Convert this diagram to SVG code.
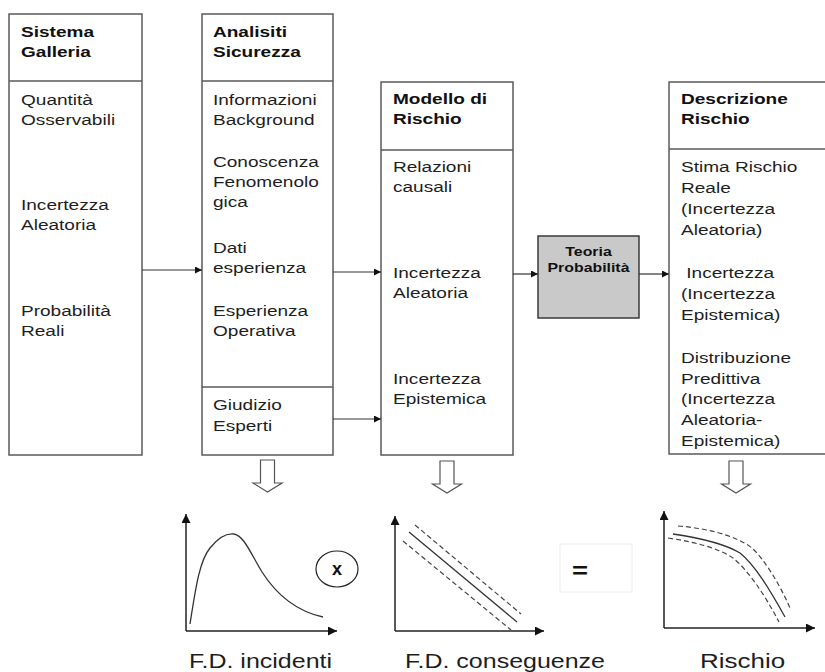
<svg xmlns="http://www.w3.org/2000/svg" width="825" height="672" viewBox="0 0 825 672">
<defs>
<style>
.box{fill:#fff;stroke:#5a5a5a;stroke-width:1.5}
.div{stroke:#5a5a5a;stroke-width:1.5}
.t{font-family:"Liberation Sans",Arial,sans-serif;font-size:15px;fill:#1e1e1e}
.h{font-family:"Liberation Sans",Arial,sans-serif;font-size:15px;font-weight:bold;fill:#111}
.tp{font-family:"Liberation Sans",Arial,sans-serif;font-size:12.5px;font-weight:bold;fill:#111;text-anchor:middle}
.lbl{font-family:"Liberation Sans",Arial,sans-serif;font-size:20px;fill:#1e1e1e}
.conn{stroke:#333;stroke-width:1.2;fill:none}
.hollow{fill:#fff;stroke:#555;stroke-width:1.2}
.axis{stroke:#222;stroke-width:1.5;fill:none}
.curve{stroke:#333;stroke-width:1.3;fill:none}
.dash{stroke:#444;stroke-width:1.2;fill:none;stroke-dasharray:5,3}
</style>
<marker id="ah" viewBox="0 0 10 10" refX="10" refY="5" markerWidth="8" markerHeight="7" markerUnits="userSpaceOnUse" orient="auto"><path d="M0,0 L10,5 L0,10 Z" fill="#111"/></marker>
<marker id="ax" viewBox="0 0 10 10" refX="10" refY="5" markerWidth="11" markerHeight="9" markerUnits="userSpaceOnUse" orient="auto"><path d="M0,0 L10,5 L0,10 Z" fill="#111"/></marker>
</defs>

<g id="sistema-galleria">
<rect class="box" x="9" y="14" width="133" height="441"/>
<line class="div" x1="9" y1="81" x2="142" y2="81"/>
<text class="h" transform="translate(21,37) scale(1.27,1)">Sistema</text>
<text class="h" transform="translate(21,57) scale(1.27,1)">Galleria</text>
<text class="t" transform="translate(21,105) scale(1.27,1)">Quantità</text>
<text class="t" transform="translate(21,125) scale(1.27,1)">Osservabili</text>
<text class="t" transform="translate(21,210) scale(1.27,1)">Incertezza</text>
<text class="t" transform="translate(21,230) scale(1.27,1)">Aleatoria</text>
<text class="t" transform="translate(21,316) scale(1.27,1)">Probabilità</text>
<text class="t" transform="translate(21,336) scale(1.27,1)">Reali</text>
</g>

<g id="analisi-sicurezza">
<rect class="box" x="202" y="14" width="131" height="441"/>
<line class="div" x1="202" y1="81" x2="333" y2="81"/>
<line class="div" x1="202" y1="387" x2="333" y2="387"/>
<text class="h" transform="translate(213,37) scale(1.27,1)">Analisiti</text>
<text class="h" transform="translate(213,57) scale(1.27,1)">Sicurezza</text>
<text class="t" transform="translate(213,105) scale(1.27,1)">Informazioni</text>
<text class="t" transform="translate(213,125) scale(1.27,1)">Background</text>
<text class="t" transform="translate(213,167) scale(1.27,1)">Conoscenza</text>
<text class="t" transform="translate(213,187) scale(1.27,1)">Fenomenolo</text>
<text class="t" transform="translate(213,207) scale(1.27,1)">gica</text>
<text class="t" transform="translate(213,253) scale(1.27,1)">Dati</text>
<text class="t" transform="translate(213,273) scale(1.27,1)">esperienza</text>
<text class="t" transform="translate(213,316) scale(1.27,1)">Esperienza</text>
<text class="t" transform="translate(213,336) scale(1.27,1)">Operativa</text>
<text class="t" transform="translate(213,410) scale(1.27,1)">Giudizio</text>
<text class="t" transform="translate(213,431) scale(1.27,1)">Esperti</text>
</g>

<g id="modello-rischio">
<rect class="box" x="381" y="82" width="132" height="373"/>
<line class="div" x1="381" y1="150" x2="513" y2="150"/>
<text class="h" transform="translate(393,104) scale(1.27,1)">Modello di</text>
<text class="h" transform="translate(393,124) scale(1.27,1)">Rischio</text>
<text class="t" transform="translate(393,172) scale(1.27,1)">Relazioni</text>
<text class="t" transform="translate(393,192) scale(1.27,1)">causali</text>
<text class="t" transform="translate(393,278) scale(1.27,1)">Incertezza</text>
<text class="t" transform="translate(393,298) scale(1.27,1)">Aleatoria</text>
<text class="t" transform="translate(393,384) scale(1.27,1)">Incertezza</text>
<text class="t" transform="translate(393,404) scale(1.27,1)">Epistemica</text>
</g>

<g id="teoria-probabilita">
<rect x="538" y="236" width="101" height="82" fill="#c9c9c9" stroke="#3a3a3a" stroke-width="1.5"/>
<text class="tp" transform="translate(588.5,256) scale(1.27,1)">Teoria</text>
<text class="tp" transform="translate(588.5,272) scale(1.27,1)">Probabilità</text>
</g>

<g id="descrizione-rischio">
<rect class="box" x="669" y="82" width="165" height="372"/>
<line class="div" x1="669" y1="149" x2="834" y2="149"/>
<text class="h" transform="translate(681,104) scale(1.27,1)">Descrizione</text>
<text class="h" transform="translate(681,124) scale(1.27,1)">Rischio</text>
<text class="t" transform="translate(681,172) scale(1.27,1)">Stima Rischio</text>
<text class="t" transform="translate(681,193) scale(1.27,1)">Reale</text>
<text class="t" transform="translate(681,214) scale(1.27,1)">(Incertezza</text>
<text class="t" transform="translate(681,235) scale(1.27,1)">Aleatoria)</text>
<text class="t" transform="translate(681,278) scale(1.27,1)" xml:space="preserve"> Incertezza</text>
<text class="t" transform="translate(681,299) scale(1.27,1)">(Incertezza</text>
<text class="t" transform="translate(681,320) scale(1.27,1)">Epistemica)</text>
<text class="t" transform="translate(681,363) scale(1.27,1)">Distribuzione</text>
<text class="t" transform="translate(681,384) scale(1.27,1)">Predittiva</text>
<text class="t" transform="translate(681,404) scale(1.27,1)">(Incertezza</text>
<text class="t" transform="translate(681,425) scale(1.27,1)">Aleatoria-</text>
<text class="t" transform="translate(681,446) scale(1.27,1)">Epistemica)</text>
</g>

<g id="connectors">
<line class="conn" x1="142" y1="270" x2="202" y2="270" marker-end="url(#ah)"/>
<line class="conn" x1="333" y1="272" x2="381" y2="272" marker-end="url(#ah)"/>
<line class="conn" x1="333" y1="419" x2="381" y2="419" marker-end="url(#ah)"/>
<line class="conn" x1="513" y1="274" x2="538" y2="274" marker-end="url(#ah)"/>
<line class="conn" x1="639" y1="274" x2="669" y2="274" marker-end="url(#ah)"/>
<path class="hollow" d="M260.5,460 H274.5 V483 H282 L267.5,492 L253,483 H260.5 Z"/>
<path class="hollow" d="M440,461 H454 V484 H461.5 L447,493 L432.5,484 H440 Z"/>
<path class="hollow" d="M729,461 H743 V484 H750.5 L736,493 L721.5,484 H729 Z"/>
</g>

<g id="chart-incidenti">
<path class="axis" d="M186,631 V514" marker-end="url(#ax)"/>
<path class="axis" d="M186,631 H337" marker-end="url(#ax)"/>
<path class="curve" d="M190,624 C196,585 200,560 210,548 C218,538 226,533 234,534 C244,536 250,552 262,572 C278,597 300,612 323,617"/>
<text class="lbl" transform="translate(189,668) scale(1.25,1)">F.D. incidenti</text>
</g>

<g id="operator-x">
<ellipse cx="337" cy="569" rx="21" ry="18" fill="#fff" stroke="#222" stroke-width="1.2"/>
<text x="337" y="575" font-family="'Liberation Sans',Arial,sans-serif" font-size="18" font-weight="bold" fill="#111" text-anchor="middle">x</text>
</g>

<g id="chart-conseguenze">
<path class="axis" d="M395,631 V516" marker-end="url(#ax)"/>
<path class="axis" d="M395,631 H544" marker-end="url(#ax)"/>
<path class="curve" d="M409,532 L517,622"/>
<path class="dash" d="M415,525 L521,614"/>
<path class="dash" d="M403,541 L511,630"/>
<text class="lbl" transform="translate(405,668) scale(1.25,1)">F.D. conseguenze</text>
</g>

<g id="operator-eq">
<rect x="560" y="544" width="72" height="48" fill="#fff" stroke="#ececec" stroke-width="1"/>
<text transform="translate(580,578) scale(1.25,1)" font-family="'Liberation Sans',Arial,sans-serif" font-size="22" font-weight="bold" fill="#111" text-anchor="middle">=</text>
</g>

<g id="chart-rischio">
<path class="axis" d="M664,628 V511" marker-end="url(#ax)"/>
<path class="axis" d="M664,628 H815" marker-end="url(#ax)"/>
<path class="curve" d="M673,534 C700,538 725,544 740,553 C755,565 770,590 785,617"/>
<path class="dash" d="M678,526 C705,528 735,535 752,548 C765,560 780,585 790,608"/>
<path class="dash" d="M668,538 C695,542 718,548 733,558 C748,570 765,595 779,622"/>
<text class="lbl" transform="translate(700,668) scale(1.3,1)">Rischio</text>
</g>
</svg>
